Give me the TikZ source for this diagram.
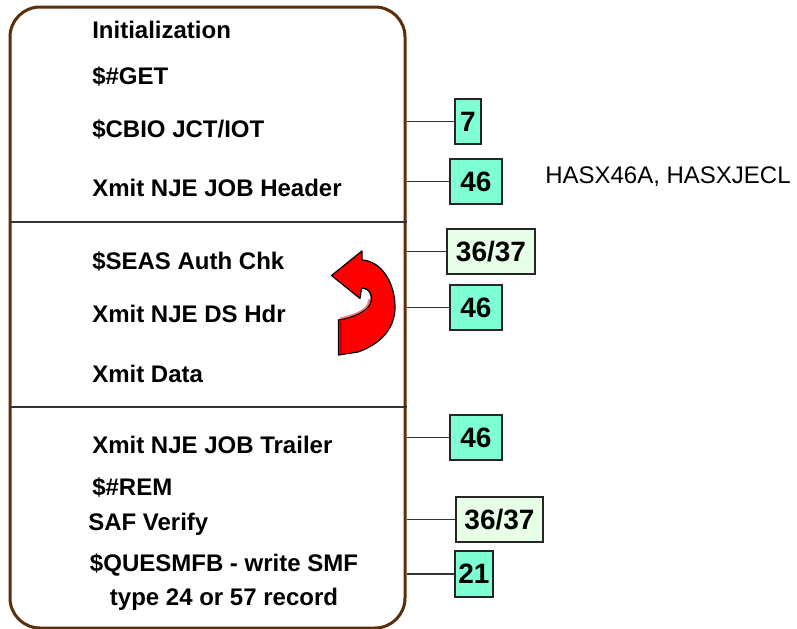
\documentclass[tikz,border=0pt]{standalone}
\usepackage{fontspec}
\setmainfont{Liberation Sans}
\definecolor{framebrown}{HTML}{5C2E0A}
\definecolor{aqua}{HTML}{7FFFD4}
\definecolor{palegreen}{HTML}{E6FFE6}
\definecolor{pinkhl}{HTML}{F08080}
\definecolor{darkred}{HTML}{B00000}
\begin{document}
\begin{tikzpicture}[x=0.75pt,y=-0.75pt,
  lbl/.style={font=\bfseries\fontsize{18}{21}\selectfont, anchor=base west, inner sep=0pt},
  numbox/.style={draw=black!85, line width=0.9pt, fill=aqua, font=\bfseries\fontsize{21}{24}\selectfont, inner sep=0pt, minimum height=33.75pt},
  palebox/.style={numbox, fill=palegreen},
  conn/.style={draw=black!80, line width=0.8pt},
  sep/.style={draw=black!80, line width=0.8pt}]
\useasboundingbox (0,0) rectangle (797,629);
% frame
\node[draw=framebrown, line width=2.25pt, rounded corners=22.5pt, minimum width=296.25pt, minimum height=465.75pt, inner sep=0pt] (frame) at (207.5,317.5) {};
\coordinate (s1) at (0,222);
\coordinate (s2) at (0,407);
\draw[sep] (frame.west |- s1) -- (frame.east |- s1);
\draw[sep] (frame.west |- s2) -- (frame.east |- s2);
% labels
\node[lbl] (t1) at (92,38) {Initialization};
\node[lbl] (t2) at (92,84) {\$\#GET};
\node[lbl] (t3) at (92,137) {\$CBIO JCT/IOT};
\node[lbl] (t4) at (92,196) {Xmit NJE JOB Header};
\node[lbl] (t5) at (92,269) {\$SEAS Auth Chk};
\node[lbl] (t6) at (92,322) {Xmit NJE DS Hdr};
\node[lbl] (t7) at (92,382) {Xmit Data};
\node[lbl] (t8) at (92,453) {Xmit NJE JOB Trailer};
\node[lbl] (t9) at (92,495) {\$\#REM};
\node[lbl] (t10) at (88,530) {SAF Verify};
\node[font=\bfseries\fontsize{18}{25.5}\selectfont, align=center, inner sep=0pt] (t11) at (224,582) {\$QUESMFB - write SMF\\type 24 or 57 record};
% number boxes
\node[numbox, minimum width=19.5pt] (b1) at (468,121.5) {7};
\node[numbox, minimum width=39pt] (b2) at (476,181.5) {46};
\node[palebox, minimum width=66pt] (b3) at (491,251.5) {36/37};
\node[numbox, minimum width=39pt] (b4) at (476,307.5) {46};
\node[numbox, minimum width=39pt] (b5) at (476,437.5) {46};
\node[palebox, minimum width=65.25pt] (b6) at (499.5,519.5) {36/37};
\node[numbox, minimum width=28.5pt, minimum height=34.5pt] (b7) at (474,574) {21};
\foreach \b in {b1,b2,b3,b4,b5,b6,b7}{\draw[conn] (frame.east |- \b.west) -- (\b.west);}
\node[font=\fontsize{18}{21}\selectfont, anchor=west, inner sep=0pt] (note) at (545,177) {HASX46A, HASXJECL};
% red U-turn arrow
\path[fill=red, draw=black, line width=0.9pt, line join=round]
  (338.5,320) -- (338.5,355) -- (358,352)
  .. controls (378,345) and (396,330) .. (395,305)
  .. controls (394,280) and (380,261) .. (362,260)
  -- (362,251) -- (331.5,275.5) -- (360,298.5) -- (361.5,288)
  .. controls (372,288) and (374,300) .. (368,307)
  .. controls (362,314) and (350,318) .. (338.5,320) -- cycle;
\draw[pinkhl, line width=2pt, line cap=round]
  (369.5,300) .. controls (369,303) and (368.5,305) .. (366.5,307.5)
  .. controls (361,313) and (351,316.5) .. (341,318.5);
\draw[darkred, line width=1.5pt] (340.5,322) -- (340.5,353);
\draw[black, line width=0.7pt]
  (361.5,288) .. controls (372,288) and (374,300) .. (368,307)
  .. controls (362,314) and (350,318) .. (338.5,320);
\end{tikzpicture}
\end{document}
